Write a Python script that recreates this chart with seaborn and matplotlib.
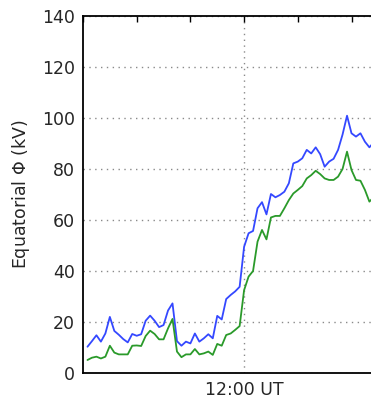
import numpy as np
import pandas as pd
import matplotlib
matplotlib.use("Agg")
import matplotlib.pyplot as plt
from matplotlib.ticker import FixedLocator, MultipleLocator, FixedFormatter
import seaborn as sns

sns.set_style("white")
plt.rcParams["font.family"] = ["DejaVu Sans"]
plt.rcParams["mathtext.fontset"] = "dejavusans"

# 5-minute samples starting 09:05 UT (hours)
start_hour = 9 + 5 / 60
step_hour = 5 / 60

phi_blue = [10.3, 12.5, 14.8, 12.3, 15.5, 22.0, 16.5, 15.0, 13.3, 12.0,
            15.3, 14.6, 15.2, 20.5, 22.5, 20.5, 18.0, 18.8, 24.5, 27.3,
            12.5, 10.7, 12.3, 11.6, 15.5, 12.3, 13.6, 15.2, 13.6, 22.4,
            21.0, 29.0, 30.6, 32.0, 33.8, 49.5, 54.8, 55.7, 64.6, 67.0,
            62.2, 70.2, 68.9, 69.8, 71.1, 74.4, 82.2, 82.9, 84.2, 87.5,
            86.1, 88.5, 85.8, 80.9, 82.9, 84.0, 87.5, 93.5, 100.9, 94.0,
            92.7, 94.0, 90.7, 88.5, 90.5]

phi_green = [5.1, 6.0, 6.4, 5.7, 6.4, 10.7, 8.0, 7.3, 7.3, 7.3,
             10.7, 10.8, 10.6, 14.5, 16.6, 15.3, 13.2, 13.2, 17.5, 21.2,
             8.4, 6.2, 7.3, 7.3, 9.4, 7.3, 7.7, 8.4, 7.1, 11.4,
             10.7, 14.9, 15.5, 16.9, 18.4, 32.5, 37.8, 40.0, 51.5, 56.1,
             52.4, 61.0, 61.6, 61.6, 64.6, 67.8, 70.4, 71.8, 73.3, 76.3,
             77.6, 79.3, 78.0, 76.3, 75.7, 75.7, 77.0, 80.0, 86.8, 79.6,
             75.7, 75.4, 71.8, 67.2, 69.0]

hours = [start_hour + i * step_hour for i in range(len(phi_blue))]

y_ticks = [0, 20, 40, 60, 80, 100, 120, 140]
x_major = [12]
x_major_labels = ["12:00 UT"]

df = pd.DataFrame({
    "hour": hours * 2,
    "phi": phi_blue + phi_green,
    "series": ["blue"] * len(phi_blue) + ["green"] * len(phi_green),
})

W, H = 371, 399
dpi = 100
fig = plt.figure(figsize=(W / dpi, H / dpi), dpi=dpi)
left_px, bottom_px, top_px = 83, 26, 383
px_per_hour = 53.7
x0, x1 = 9, 15
ax = fig.add_axes([left_px / W, bottom_px / H,
                   (x1 - x0) * px_per_hour / W, (top_px - bottom_px) / H])

sns.lineplot(data=df, x="hour", y="phi", hue="series",
             palette={"blue": "#3448ff", "green": "#2a9a2a"},
             linewidth=1.3, legend=False, ax=ax)

ax.set_xlim(x0, x1)
ax.set_ylim(0, 140)
ax.yaxis.set_major_locator(FixedLocator(y_ticks))
ax.xaxis.set_major_locator(FixedLocator(x_major))
ax.xaxis.set_major_formatter(FixedFormatter(x_major_labels))
ax.xaxis.set_minor_locator(MultipleLocator(1))

ax.grid(True, which="major", linestyle=(0, (1, 3.2)), color="#8a8a8a",
        linewidth=1.0)
ax.set_xlabel("")
ax.set_ylabel(r"Equatorial $\Phi$ (kV)", fontsize=12.5, labelpad=7)

ax.tick_params(axis="both", which="both", direction="in",
               top=True, right=True, labelsize=12.5, color="black")
ax.tick_params(which="major", length=4.5, width=1, pad=6)
ax.tick_params(which="minor", length=4, width=1)
for s in ax.spines.values():
    s.set_color("black")
    s.set_linewidth(1.3)

fig.savefig("out.png", dpi=dpi)
